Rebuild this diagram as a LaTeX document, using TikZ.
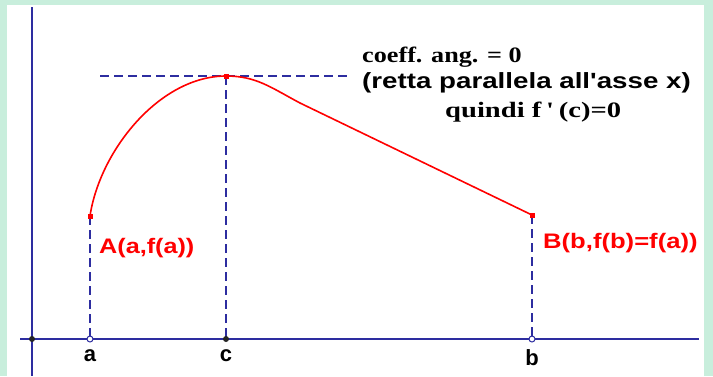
\documentclass[tikz,border=0pt]{standalone}
\usepackage{fontspec}
\setmainfont{Liberation Serif}
\setsansfont{Liberation Sans}
\newcommand\straightq{{\XeTeXglyph\XeTeXglyphindex "quotesingle"\relax}}
\definecolor{bggreen}{RGB}{200,238,220}
\definecolor{axblue}{RGB}{45,45,160}
\tikzset{
  axis/.style={draw=axblue, line width=2pt},
  guide/.style={draw=axblue, line width=1.8pt, dash pattern=on 9pt off 5pt},
  curve/.style={draw=red, line width=1.6pt},
  redlbl/.style={text=red, font=\sffamily\bfseries\fontsize{21}{22}\selectfont, inner sep=0pt},
  axlbl/.style={text=black, font=\sffamily\bfseries\fontsize{22}{24}\selectfont, inner sep=0pt},
  note/.style={text=black, inner sep=0pt},
  opendot/.style={circle, draw=axblue, fill=white, line width=1pt, minimum size=6pt, inner sep=0pt},
  filldot/.style={circle, fill=black!85, minimum size=6pt, inner sep=0pt},
  redsq/.style={rectangle, fill=red, minimum size=5pt, inner sep=0pt}
}
\begin{document}
\begin{tikzpicture}[x=1pt, y=-1pt]
\useasboundingbox (0,0) rectangle (713,376);
\fill[bggreen] (0,0) rectangle (713,376);
\fill[white] (7,5) rectangle (704,376);
% axes
\coordinate (ytop) at (32,7);
\coordinate (ybot) at (32,376);
\coordinate (xl) at (20,339);
\coordinate (xr) at (699,339);
\draw[axis] (ytop) -- (ybot);
\draw[axis] (xl) -- (xr);
% guide points
\coordinate (ha) at (100,76);
\coordinate (hb) at (350,76);
\coordinate (pa) at (90,339);
\coordinate (pc) at (226,339);
\coordinate (pb) at (532,339);
\coordinate (A) at (90,216);
\coordinate (C) at (226,76);
\coordinate (B) at (532,215);
\coordinate (M) at (300,103);
\draw[guide] (ha) -- (hb);
\draw[guide] (A) -- (pa);
\draw[guide] (C) -- (pc);
\draw[guide] (B) -- (pb);
% curve
\draw[curve] (A) .. controls (100,150) and (160,76) .. (C)
  .. controls (256,76) and (270,87) .. (M) -- (B);
% dots
\node[filldot] (o) at (32,339) {};
\node[opendot] (na) at (pa) {};
\node[filldot] (nc) at (pc) {};
\node[opendot] (nb) at (pb) {};
\node[redsq] (nA) at (A) {};
\node[redsq] (nC) at (C) {};
\node[redsq] (nB) at (B) {};
% labels
\node[redlbl, anchor=west] (lA) at (99,248) {\scalebox{1.2}[1]{A(a,f(a))}};
\node[redlbl, anchor=west] (lB) at (543,243) {\scalebox{1.22}[1]{B(b,f(b)=f(a))}};
\node[axlbl] (la) at (90,356) {a};
\node[axlbl] (lc) at (226,356) {c};
\node[axlbl] (lb) at (532,358) {b};
\node[note, anchor=west, font=\bfseries\fontsize{22}{24}\selectfont] (t1) at (362,57) {\scalebox{1.19}[1]{coeff. ang. = 0}};
\node[note, anchor=west, font=\sffamily\bfseries\fontsize{22}{24}\selectfont] (t2) at (362,83) {\scalebox{1.26}[1]{(retta parallela all\straightq asse x)}};
\node[note, anchor=west, font=\bfseries\fontsize{22}{24}\selectfont] (t3) at (445,112) {\scalebox{1.3}[1]{quindi f\,\straightq\,(c)=0}};
\end{tikzpicture}
\end{document}
